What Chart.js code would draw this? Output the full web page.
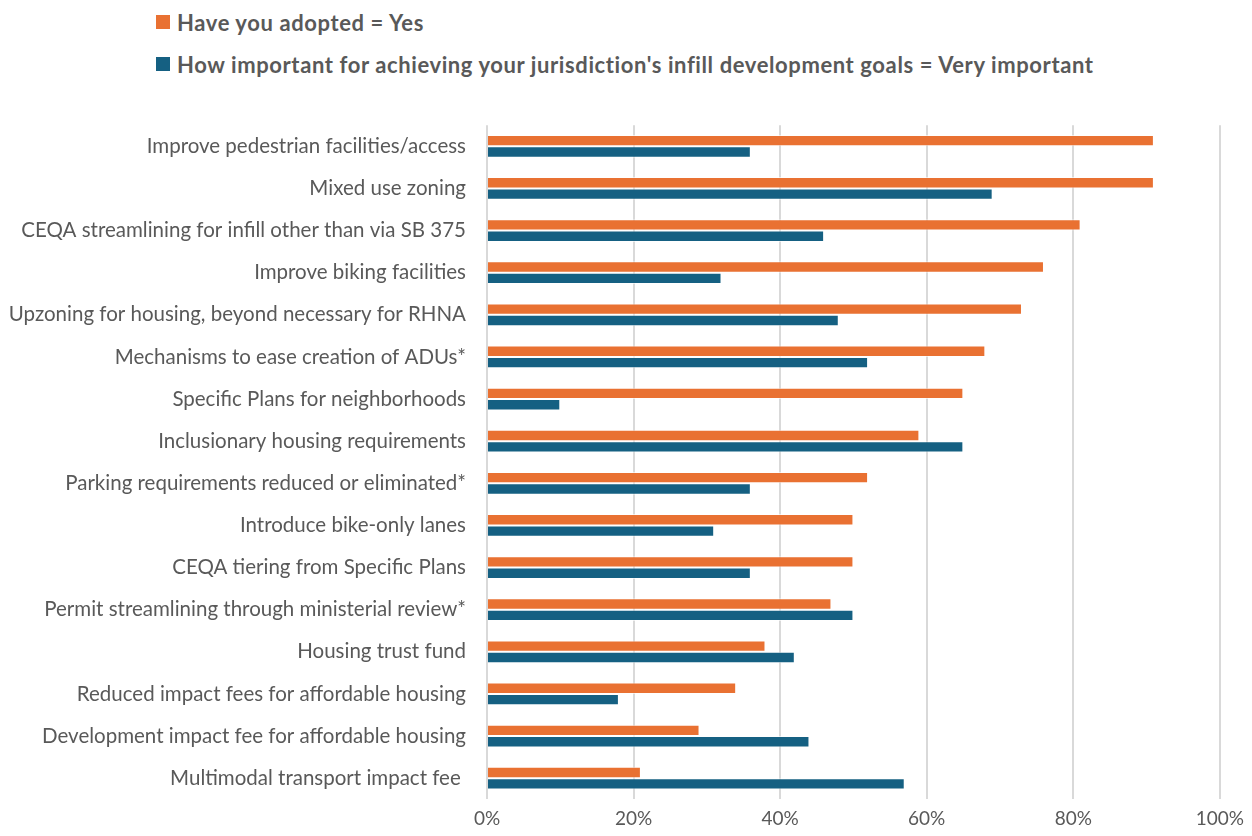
<!DOCTYPE html>
<html>
<head>
<meta charset="utf-8">
<script src="https://cdn.jsdelivr.net/npm/chart.js@4/dist/chart.umd.min.js"></script>
<style>
  html, body { margin: 0; padding: 0; background: #fff; }
  body { width: 1252px; height: 836px; position: relative; overflow: hidden; font-family: Lato, "Open Sans", sans-serif; }
  #legend { position: absolute; left: 156px; top: 1px; }
  .item { display: flex; align-items: center; height: 42px; font-weight: bold; font-size: 22px; letter-spacing: 0.6px; color: #595959; }
  .swatch { width: 14px; height: 14px; margin-right: 7px; }
  #wrap { position: absolute; left: 0; top: 100px; width: 1252px; height: 738px; }
</style>
</head>
<body>
<div id="legend"></div>
<div id="wrap"><canvas id="chart"></canvas></div>
<script>
const categories = [
  'Improve pedestrian facilities/access',
  'Mixed use zoning',
  'CEQA streamlining for infill other than via SB 375',
  'Improve biking facilities',
  'Upzoning for housing, beyond necessary for RHNA',
  'Mechanisms to ease creation of ADUs*',
  'Specific Plans for neighborhoods',
  'Inclusionary housing requirements',
  'Parking requirements reduced or eliminated*',
  'Introduce bike-only lanes',
  'CEQA tiering from Specific Plans',
  'Permit streamlining through ministerial review*',
  'Housing trust fund',
  'Reduced impact fees for affordable housing',
  'Development impact fee for affordable housing',
  'Multimodal transport impact fee '
];
const adoptedYes = [91, 91, 81, 76, 73, 68, 65, 59, 52, 50, 50, 47, 38, 34, 29, 21];
const veryImportant = [36, 69, 46, 32, 48, 52, 10, 65, 36, 31, 36, 50, 42, 18, 44, 57];
const seriesNames = [
  'Have you adopted = Yes',
  "How important for achieving your jurisdiction's infill development goals = Very important"
];
const colors = ['#E97132', '#156082'];

const chart = new Chart(document.getElementById('chart'), {
  type: 'bar',
  data: {
    labels: categories,
    datasets: [
      { label: seriesNames[0], data: adoptedYes, backgroundColor: colors[0], borderColor: 'rgba(255,255,255,0.6)', borderWidth: 1, borderSkipped: 'start' },
      { label: seriesNames[1], data: veryImportant, backgroundColor: colors[1], borderColor: 'rgba(255,255,255,0.6)', borderWidth: 1, borderSkipped: 'start' }
    ]
  },
  options: {
    indexAxis: 'y',
    responsive: true,
    maintainAspectRatio: false,
    animation: false,
    categoryPercentage: 0.54,
    barPercentage: 1,
    layout: { padding: { left: 0, right: 30, top: 0, bottom: 0 } },
    plugins: {
      legend: { display: false },
      tooltip: { enabled: false }
    },
    scales: {
      x: {
        min: 0,
        max: 100,
        ticks: {
          stepSize: 20,
          padding: 8,
          color: '#595959',
          font: { family: 'Lato', size: 19 },
          callback: v => v + '%'
        },
        grid: { color: '#d9d9d9', lineWidth: 2, drawTicks: false },
        border: { display: false }
      },
      y: {
        afterFit: scale => { scale.width = 487; },
        ticks: {
          padding: 13,
          color: '#595959',
          font: { family: 'Lato', size: 20.5 }
        },
        grid: { display: false },
        border: { display: false }
      }
    }
  }
});

// legend, one entry per line
const legend = document.getElementById('legend');
chart.data.datasets.forEach(ds => {
  const item = document.createElement('div');
  item.className = 'item';
  const sw = document.createElement('span');
  sw.className = 'swatch';
  sw.style.background = ds.backgroundColor;
  item.appendChild(sw);
  item.appendChild(document.createTextNode(ds.label));
  legend.appendChild(item);
});
</script>
</body>
</html>
